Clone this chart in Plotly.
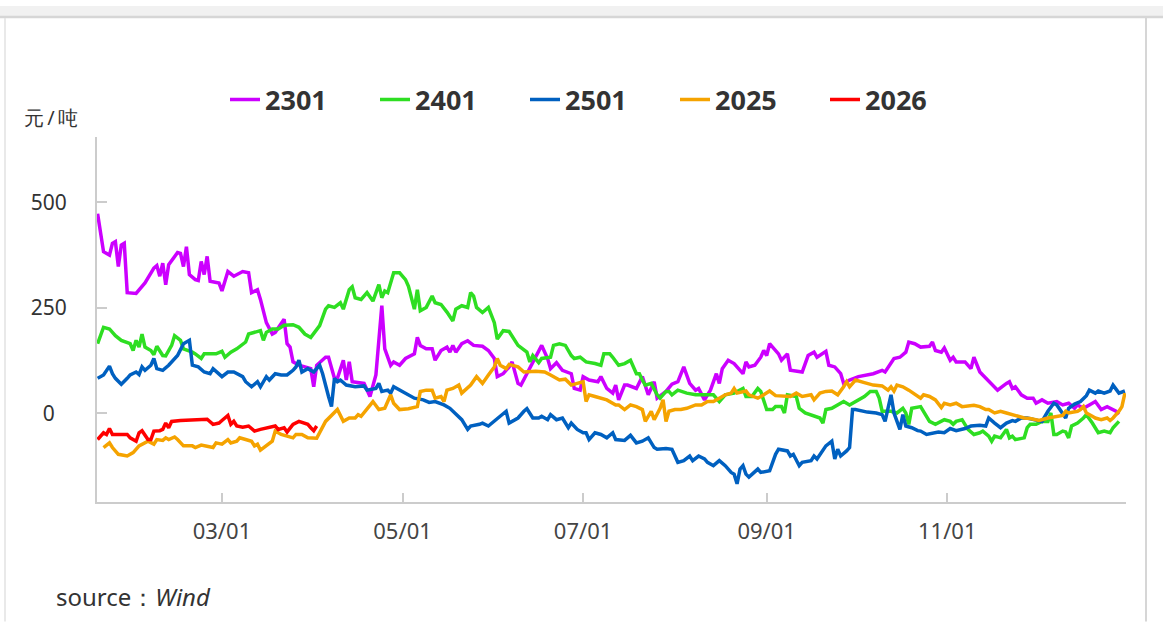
import pandas as pd
import plotly.graph_objects as go

# ---------------- data (day-of-year offsets from Jan 1, values in 元/吨) ----------------
series_names = ["2301", "2401", "2501", "2025", "2026"]
series_colors = ["#cc00ff", "#2ede22", "#0060c0", "#f5a300", "#ff0000"]

d2301 = [17, 19, 21, 22, 23, 24, 25, 26, 27, 30, 33, 36, 37, 38, 39, 40, 41, 44, 45, 46, 47, 48, 50, 51, 52, 53, 54, 55, 58, 59,
         61, 63, 66, 68, 69, 71, 72, 74, 76, 77, 80, 81, 82, 83, 85, 89, 90, 91, 94, 95, 97, 98, 100, 101, 102, 103, 107, 109, 111, 112,
         113, 114, 116, 117, 119, 121, 124, 125, 126, 128, 130, 131, 133, 135, 136, 137, 138, 140, 142, 144, 147, 149, 151, 152, 154, 156, 157, 159, 160, 162,
         165, 167, 169, 170, 172, 174, 177, 178, 180, 181, 183, 186, 187, 189, 191, 192, 193, 195, 196, 199, 201, 203, 205, 206, 209, 211, 213, 215, 217, 219,
         220, 222, 224, 226, 227, 228, 230, 232, 235, 236, 237, 239, 241, 242, 243, 244, 245, 247, 248, 250, 251, 255, 257, 259, 260, 263, 264, 266, 268, 269,
         271, 274, 279, 282, 283, 285, 286, 288, 290, 291, 293, 295, 298, 299, 300, 302, 303, 305, 306, 307, 310, 312, 313, 315, 317, 319, 321, 324, 325, 326,
         327, 329, 331, 333, 334, 336, 338, 341, 343, 345, 347, 348, 350, 352, 354, 356, 358, 361, 362]
v2301 = [473, 383, 375, 403, 407, 348, 399, 403, 286, 284, 309, 344, 350, 325, 356, 305, 352, 381, 379, 348, 395, 329, 317, 315, 360, 329, 372, 313, 309, 290,
         336, 325, 336, 333, 286, 293, 270, 215, 188, 192, 223, 165, 157, 122, 114, 106, 63, 114, 133, 133, 83, 83, 126, 79, 122, 75, 71, 40, 91, 176,
         255, 153, 114, 122, 114, 130, 141, 180, 161, 153, 153, 126, 149, 157, 145, 161, 145, 165, 172, 161, 159, 149, 130, 87, 94, 110, 122, 71, 67, 94,
         133, 161, 130, 106, 120, 102, 94, 59, 55, 87, 79, 75, 87, 59, 48, 67, 32, 67, 67, 59, 87, 44, 75, 36, 52, 69, 75, 110, 71, 55,
         59, 32, 55, 94, 71, 106, 126, 118, 94, 122, 110, 114, 133, 149, 137, 165, 157, 141, 126, 141, 102, 98, 137, 145, 133, 147, 114, 110, 94, 71,
         79, 87, 94, 102, 98, 122, 130, 133, 145, 169, 165, 157, 159, 169, 149, 145, 155, 126, 133, 122, 122, 106, 133, 98, 83, 71, 55, 71, 75, 59,
         63, 44, 36, 36, 24, 32, 24, 28, 20, 24, 12, 20, 12, 20, 28, 9, 16, 5, -2]

d2401 = [17, 19, 21, 23, 25, 28, 29, 30, 31, 32, 33, 35, 36, 37, 39, 40, 42, 43, 45, 46, 49, 50, 52, 53, 57, 59, 60, 62, 64, 66,
         67, 68, 70, 72, 73, 74, 76, 78, 80, 83, 85, 87, 89, 92, 94, 95, 97, 99, 100, 102, 103, 104, 106, 108, 110, 112, 113, 114, 115, 117,
         119, 121, 122, 124, 125, 126, 128, 130, 131, 133, 135, 137, 138, 140, 142, 143, 144, 145, 147, 149, 151, 152, 154, 156, 159, 161, 162, 163, 164, 166,
         167, 170, 171, 173, 175, 177, 178, 180, 182, 185, 187, 188, 190, 191, 193, 195, 197, 199, 200, 201, 202, 204, 206, 207, 209, 210, 211, 213, 214, 216,
         219, 222, 225, 227, 229, 232, 235, 236, 238, 240, 241, 243, 245, 246, 248, 249, 250, 253, 254, 256, 259, 261, 262, 263, 265, 267, 269, 271, 273, 276,
         278, 280, 281, 282, 285, 287, 289, 290, 291, 292, 295, 296, 298, 300, 302, 303, 305, 306, 307, 309, 311, 313, 315, 316, 318, 319, 320, 322, 324, 325,
         326, 327, 330, 331, 332, 334, 336, 338, 339, 340, 341, 343, 344, 345, 346, 348, 350, 351, 353, 355, 357, 359, 360, 362]
v2401 = [165, 204, 200, 184, 173, 165, 149, 173, 157, 188, 157, 149, 139, 159, 137, 136, 161, 184, 173, 153, 145, 141, 130, 141, 141, 147, 133, 145, 153, 165,
         169, 188, 192, 196, 173, 192, 200, 200, 209, 210, 204, 188, 180, 208, 247, 255, 251, 262, 247, 293, 300, 274, 270, 286, 266, 305, 274, 290, 286, 333,
         333, 317, 301, 247, 293, 243, 251, 278, 262, 258, 240, 219, 247, 255, 251, 286, 278, 251, 239, 251, 215, 176, 196, 194, 161, 149, 145, 122, 137, 120,
         130, 133, 161, 165, 161, 137, 130, 133, 122, 118, 114, 141, 141, 133, 114, 118, 126, 94, 94, 79, 67, 71, 44, 36, 52, 52, 44, 55, 52, 48,
         44, 45, 44, 28, 44, 48, 59, 40, 40, 59, 52, 9, 9, 16, 16, 1, 44, 40, 12, 1, -7, -11, -23, 9, 12, 20, 28, 20, 28, 40,
         52, 52, 36, 5, 5, 1, 12, 1, -26, 12, 16, 5, -19, -26, -19, -15, -19, -26, -19, -15, -38, -50, -46, -42, -54, -66, -54, -58, -38, -58,
         -54, -62, -58, -34, -26, -26, -19, -19, 1, -50, -50, -42, -44, -58, -30, -23, -11, -3, -23, -46, -42, -46, -34, -19]

d2501 = [17, 19, 21, 22, 23, 25, 27, 28, 30, 31, 32, 33, 35, 36, 37, 39, 41, 44, 46, 48, 49, 51, 53, 55, 56, 58, 59, 61, 63, 66,
         67, 69, 71, 72, 74, 75, 77, 79, 81, 83, 84, 85, 86, 88, 90, 92, 93, 95, 96, 97, 98, 99, 101, 104, 107, 108, 111, 112, 113, 115,
         116, 117, 119, 121, 124, 127, 129, 131, 134, 136, 138, 140, 142, 143, 146, 147, 149, 151, 153, 155, 156, 159, 161, 162, 164, 166, 167, 169, 170, 172,
         174, 176, 177, 179, 181, 182, 183, 185, 187, 189, 191, 192, 195, 197, 199, 201, 203, 205, 206, 209, 211, 213, 215, 217, 218, 220, 222, 223, 225, 227,
         229, 231, 232, 233, 234, 235, 236, 237, 240, 241, 244, 246, 247, 250, 251, 252, 254, 255, 258, 259, 260, 262, 263, 265, 266, 267, 268, 270, 271, 272,
         273, 277, 280, 282, 283, 285, 286, 288, 289, 290, 292, 294, 295, 297, 299, 301, 303, 305, 307, 310, 312, 315, 317, 318, 320, 322, 324, 326, 327, 329,
         331, 334, 336, 338, 340, 341, 343, 344, 345, 347, 349, 351, 352, 354, 355, 357, 359, 360, 362, 364]
v2501 = [83, 91, 112, 94, 83, 69, 83, 91, 98, 92, 110, 102, 114, 130, 106, 102, 114, 137, 165, 173, 114, 110, 98, 94, 106, 94, 87, 98, 98, 87,
         75, 63, 75, 63, 87, 79, 94, 91, 91, 102, 110, 126, 98, 106, 98, 114, 94, 40, 16, 83, 75, 79, 67, 63, 65, 55, 59, 71, 52, 55,
         48, 63, 55, 48, 36, 32, 26, 28, 20, 12, -3, -15, -38, -30, -26, -23, -30, -19, -7, 5, -23, -11, 5, 11, -11, -11, -7, -15, -3, -15,
         -11, -34, -23, -38, -46, -46, -62, -46, -50, -58, -46, -62, -64, -52, -70, -66, -58, -81, -85, -83, -85, -116, -112, -101, -112, -101, -108, -116, -124, -112,
         -124, -140, -144, -167, -132, -124, -144, -151, -132, -140, -136, -97, -85, -89, -101, -97, -124, -116, -112, -101, -108, -89, -77, -66, -108, -85, -101, -89, -81, 9,
         9, 3, 1, -3, -19, 44, 1, -38, -3, -30, -34, -41, -42, -50, -46, -44, -46, -36, -41, -36, -30, -28, -30, -11, -23, -34, -23, -17, -19, -11,
         -11, -17, -19, 5, 24, 20, -3, -11, 12, 22, 28, 42, 55, 48, 53, 48, 53, 67, 48, 53]

d2025 = [19, 21, 22, 24, 27, 29, 31, 34, 36, 37, 39, 40, 41, 43, 44, 46, 49, 50, 52, 54, 56, 57, 59, 61, 62, 64, 65, 67, 69, 70,
         71, 72, 74, 76, 77, 79, 81, 83, 84, 86, 88, 91, 94, 97, 98, 100, 102, 104, 105, 106, 108, 110, 112, 114, 116, 117, 119, 122, 125, 126,
         128, 130, 131, 133, 134, 135, 137, 139, 140, 143, 145, 147, 149, 151, 152, 153, 155, 156, 159, 161, 165, 168, 170, 173, 175, 177, 179, 181, 182, 183,
         185, 187, 189, 192, 193, 195, 197, 199, 201, 202, 204, 205, 207, 208, 209, 210, 212, 214, 216, 219, 221, 223, 225, 227, 229, 231, 232, 233, 236, 237,
         240, 242, 244, 246, 248, 251, 253, 255, 258, 259, 261, 263, 265, 267, 269, 270, 271, 273, 276, 279, 282, 284, 285, 286, 287, 289, 291, 293, 295, 296,
         298, 300, 302, 303, 305, 307, 309, 313, 315, 317, 318, 320, 322, 324, 327, 330, 332, 335, 338, 340, 343, 344, 345, 348, 349, 350, 351, 353, 354, 356,
         358, 359, 360, 362, 363, 364]
v2025 = [-81, -70, -81, -97, -101, -93, -77, -66, -73, -62, -64, -58, -62, -56, -62, -77, -77, -81, -75, -77, -81, -70, -73, -62, -70, -66, -58, -62, -66, -77,
         -73, -87, -77, -66, -42, -50, -54, -58, -50, -50, -58, -59, -19, 1, 9, -19, -11, -11, -3, -7, 9, 28, 9, 12, 44, 24, 9, 11, 16, 52,
         55, 55, 36, 40, 28, 55, 59, 67, 48, 67, 87, 71, 91, 110, 130, 114, 106, 116, 110, 98, 100, 98, 91, 79, 81, 67, 71, 75, 28, 44,
         40, 36, 32, 20, 20, 9, 20, 16, 9, -19, 5, -15, 12, 32, -19, 5, 9, 9, 12, 20, 20, 28, 28, 36, 44, 48, 59, 48, 53, 44,
         36, 44, 53, 42, 42, 40, 48, 40, 44, 32, 48, 52, 53, 44, 63, 75, 63, 79, 73, 67, 65, 55, 63, 53, 67, 63, 55, 46, 36, 44,
         40, 32, 14, 24, 20, 24, 16, 19, 16, 9, 9, 1, 5, 1, -5, -11, -12, -17, -11, -9, -5, 5, 1, 5, 9, 16, 1, -7, -11, -15,
         -11, -17, -11, 5, 16, 48]

d2026 = [17, 19, 20, 21, 22, 25, 27, 28, 30, 31, 32, 34, 35, 36, 38, 39, 40, 41, 42, 45, 50, 54, 56, 58, 59, 60, 61, 62, 63, 64,
         66, 68, 70, 72, 75, 77, 78, 80, 81, 83, 85, 88, 89, 90, 91]
v2026 = [-62, -46, -50, -36, -50, -50, -50, -58, -66, -46, -41, -62, -62, -42, -41, -38, -23, -34, -19, -17, -16, -14, -26, -23, -17, -11, -5, -26, -19, -30,
         -33, -30, -42, -38, -34, -30, -38, -34, -44, -26, -19, -26, -34, -41, -30]

series_days = [d2301, d2401, d2501, d2025, d2026]
series_vals = [v2301, v2401, v2501, v2025, v2026]

x_tick_dates = ["2025-03-01", "2025-05-01", "2025-07-01", "2025-09-01", "2025-11-01"]
x_tick_labels = ["03/01", "05/01", "07/01", "09/01", "11/01"]
y_tick_vals = [0, 250, 500]
y_tick_labels = ["\u20070\u2007", "250", "500"]

base = pd.Timestamp("2025-01-01")

# ---------------- figure ----------------
W, H = 1163, 623
L, R, T, B = 97, 37, 132, 121
pw, ph = W - L - R, H - T - B


def px_x(px):
    return (px - L) / pw


def px_y(py):
    return (H - B - py) / ph


fig = go.Figure()
for name, color, days, vals in zip(series_names, series_colors, series_days, series_vals):
    dates = base + pd.to_timedelta(days, unit="D")
    fig.add_trace(go.Scatter(x=dates, y=vals, name=name, mode="lines",
                             line=dict(color=color, width=3.5)))

font_family = "Noto Sans, Open Sans, DejaVu Sans, sans-serif"

fig.update_layout(
    width=W, height=H,
    margin=dict(l=L, r=R, t=T, b=B, pad=0),
    paper_bgcolor="white", plot_bgcolor="white",
    font=dict(family=font_family, color="#333333"),
    showlegend=True,
    legend=dict(
        orientation="h", xref="container", yref="container",
        x=225 / W, xanchor="left", y=1 - 100 / H, yanchor="middle",
        entrywidth=105, entrywidthmode="pixels",
        font=dict(size=27, color="#333333", family=font_family, weight="bold"),
        bgcolor="rgba(0,0,0,0)", itemclick=False, itemdoubleclick=False,
    ),
    xaxis=dict(
        type="date",
        range=["2025-01-17 19:00", "2025-12-31 09:00"],
        tickvals=x_tick_dates, ticktext=x_tick_labels,
        showgrid=False, zeroline=False,
        showline=True, linecolor="#cccccc", linewidth=2,
        ticks="inside", ticklen=9, tickcolor="#cccccc", tickwidth=1.5,
        ticklabelstandoff=9,
        tickfont=dict(size=22, color="#444444"),
    ),
    yaxis=dict(
        range=[-210, 656],
        tickvals=y_tick_vals, ticktext=y_tick_labels,
        showgrid=False, zeroline=False,
        showline=True, linecolor="#cccccc", linewidth=2,
        ticks="inside", ticklen=10, tickcolor="#cccccc", tickwidth=1.5,
        ticklabelstandoff=24,
        tickfont=dict(size=21, color="#333333"),
    ),
    hovermode=False,
)

# page frame: grey strip on top, thin borders left/right
fig.add_shape(type="rect", xref="paper", yref="paper",
              x0=px_x(0), x1=px_x(W), y0=px_y(10), y1=px_y(0),
              fillcolor="#f1f1f1", line=dict(width=0), layer="below")
fig.add_shape(type="line", xref="paper", yref="paper",
              x0=px_x(0), x1=px_x(W), y0=px_y(11), y1=px_y(11),
              line=dict(color="#d6d6d6", width=2.5))
fig.add_shape(type="line", xref="paper", yref="paper",
              x0=px_x(5), x1=px_x(5), y0=px_y(12), y1=px_y(H),
              line=dict(color="#e2e2e2", width=1.5))
fig.add_shape(type="line", xref="paper", yref="paper",
              x0=px_x(1146), x1=px_x(1146), y0=px_y(12), y1=px_y(H),
              line=dict(color="#d6d6d6", width=2))

# unit label and source
fig.add_annotation(text="元\u2009/\u2009吨", xref="paper", yref="paper",
                   x=px_x(22), y=px_y(113), xanchor="left", yanchor="middle",
                   showarrow=False, font=dict(size=20, color="#333333"))
fig.add_annotation(text="source：<i>Wind</i>", xref="paper", yref="paper",
                   x=px_x(54), y=px_y(598), xanchor="left", yanchor="middle",
                   showarrow=False, font=dict(size=24, color="#333333"))

fig.write_html("out.html",
               config={"displayModeBar": False},
               post_script="document.body.style.margin='0';document.body.style.overflow='hidden';")
